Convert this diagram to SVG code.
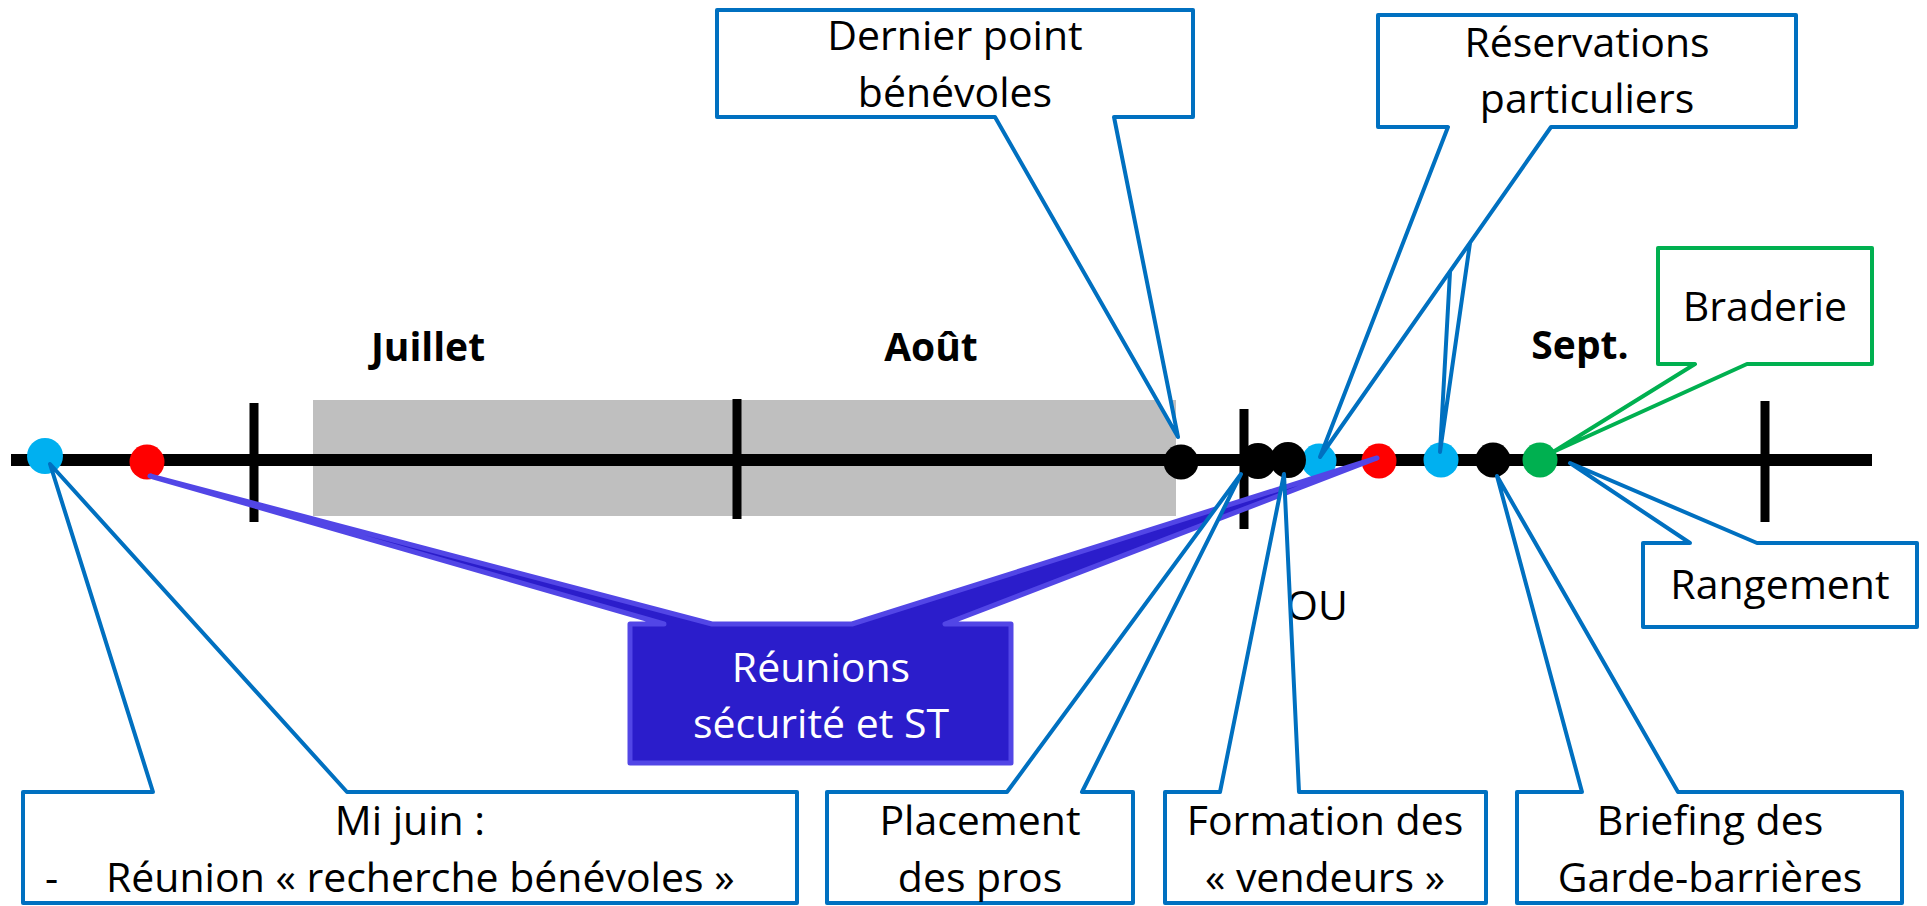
<svg xmlns="http://www.w3.org/2000/svg" width="1927" height="906" viewBox="0 0 1927 906">
  <style>
    text { font-family: "Open Sans", "Noto Sans", "Liberation Sans", sans-serif; font-size: 41px; fill: #000; }
    .c { text-anchor: middle; }
    .month { font-weight: bold; font-size: 39px; text-anchor: middle; }
    .white { fill: #fff; }
    .callout { fill: #fff; stroke: #0070C0; stroke-width: 4; stroke-linejoin: round; }
    .green { fill: #fff; stroke: #00B050; stroke-width: 4; stroke-linejoin: round; }
    .meeting { fill: #2B1DCB; stroke: #5246E6; stroke-width: 5; stroke-linejoin: round; }
    .tick { stroke: #000; stroke-width: 9; }
  </style>

  <!-- timeline: summer band, axis and month ticks -->
  <g id="timeline">
    <rect x="313" y="400" width="863" height="116" fill="#BFBFBF"/>
    <line x1="11" y1="460" x2="1872" y2="460" stroke="#000" stroke-width="12"/>
    <line class="tick" x1="254" y1="403" x2="254" y2="522"/>
    <line class="tick" x1="737" y1="399" x2="737" y2="519"/>
    <line class="tick" x1="1244" y1="409" x2="1244" y2="529"/>
    <line class="tick" x1="1765" y1="401" x2="1765" y2="522"/>
    <text class="month" x="428" y="361">Juillet</text>
    <text class="month" x="931" y="361">Août</text>
    <text class="month" x="1580" y="359">Sept.</text>
    <text class="c" x="1317" y="620">OU</text>
  </g>

  <!-- event markers on the axis -->
  <g id="markers">
    <circle cx="45" cy="456" r="18" fill="#00B0F0"/>
    <circle cx="147" cy="462" r="17.5" fill="#FF0000"/>
    <circle cx="1181" cy="462" r="17.5" fill="#000"/>
    <circle cx="1258" cy="461" r="18" fill="#000"/>
    <circle cx="1319" cy="461" r="17.5" fill="#00B0F0"/>
    <circle cx="1288" cy="460" r="18" fill="#000"/>
    <circle cx="1379" cy="461" r="17.5" fill="#FF0000"/>
    <circle cx="1441" cy="460" r="17.5" fill="#00B0F0"/>
    <circle cx="1493" cy="460" r="17.5" fill="#000"/>
    <circle cx="1540" cy="460" r="17.5" fill="#00B050"/>
  </g>

  <g id="dernier-point">
    <path class="callout" d="M717,10 H1193 V117 H1114 L1178,437 L995,117 H717 Z"/>
    <text class="c" x="955" y="50">Dernier point</text>
    <text class="c" x="955" y="107">bénévoles</text>
  </g>

  <g id="reservations">
    <path class="callout" d="M1470,243 L1440,452 L1450,272"/>
    <path class="callout" d="M1378,15 H1796 V127 H1551 L1320,457 L1448,127 H1378 Z"/>
    <text class="c" x="1587" y="57">Réservations</text>
    <text class="c" x="1587" y="113">particuliers</text>
  </g>

  <g id="braderie">
    <path class="green" d="M1658,248 H1872 V364 H1747 L1553,452 L1695,364 H1658 Z"/>
    <text class="c" x="1765" y="321">Braderie</text>
  </g>

  <g id="rangement">
    <path class="callout" d="M1643,543 H1690 L1570,463 L1757,543 H1917 V627 H1643 Z"/>
    <text class="c" x="1780" y="599">Rangement</text>
  </g>

  <g id="reunions-securite">
    <path class="meeting" d="M630,624 H664 L150,476 L712,624 H852 L1377,458 L945,624 H1011 V763 H630 Z"/>
    <text class="c white" x="821" y="682">Réunions</text>
    <text class="c white" x="821" y="738">sécurité et ST</text>
  </g>

  <g id="mi-juin">
    <path class="callout" d="M23,792 H153 L50,464 L347,792 H797 V903 H23 Z"/>
    <text class="c" x="410" y="835">Mi juin :</text>
    <text x="45" y="892">-</text>
    <text x="106" y="892">Réunion « recherche bénévoles »</text>
  </g>

  <g id="placement">
    <path class="callout" d="M827,792 H1007 L1241,474 L1082,792 H1133 V903 H827 Z"/>
    <text class="c" x="980" y="835">Placement</text>
    <text class="c" x="980" y="892">des pros</text>
  </g>

  <g id="formation">
    <path class="callout" d="M1165,792 H1220 L1284,474 L1299,792 H1486 V903 H1165 Z"/>
    <text class="c" x="1325" y="835">Formation des</text>
    <text class="c" x="1325" y="892">« vendeurs »</text>
  </g>

  <g id="briefing">
    <path class="callout" d="M1517,792 H1582 L1497,476 L1678,792 H1902 V903 H1517 Z"/>
    <text class="c" x="1710" y="835">Briefing des</text>
    <text class="c" x="1710" y="892">Garde-barrières</text>
  </g>
</svg>
